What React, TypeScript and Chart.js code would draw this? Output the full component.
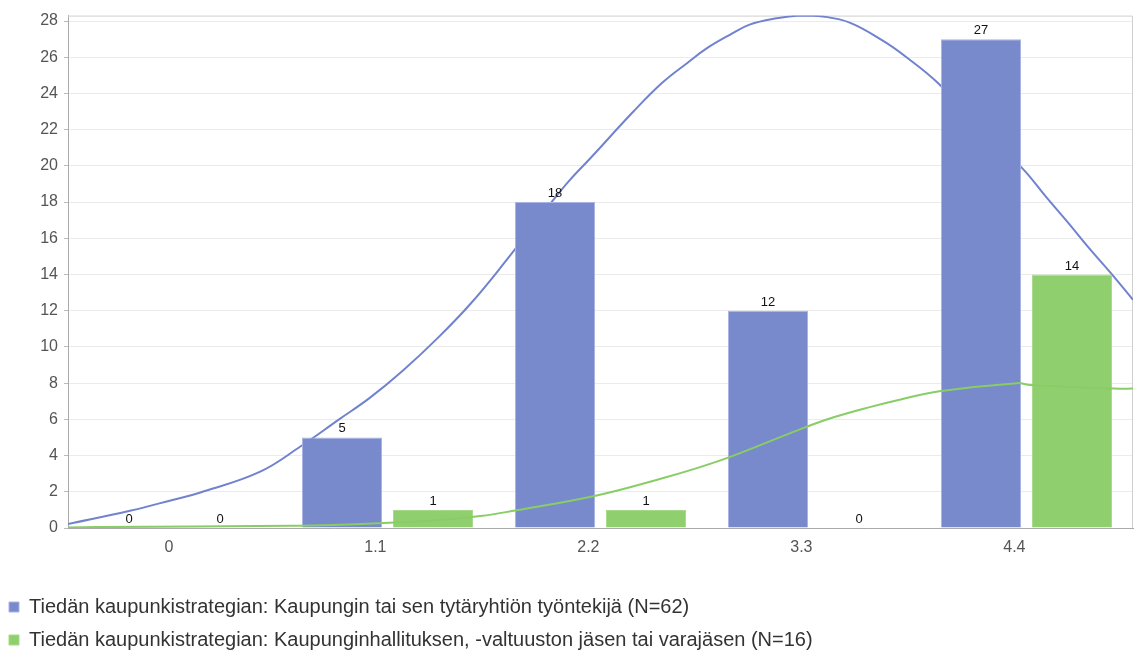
import React, { useEffect, useRef } from 'react';
import { Chart, registerables } from 'chart.js';

Chart.register(...registerables);

const categories = ['0', '1.1', '2.2', '3.3', '4.4'];
const employeeLabel = 'Tiedän kaupunkistrategian: Kaupungin tai sen tytäryhtiön työntekijä (N=62)';
const councilLabel = 'Tiedän kaupunkistrategian: Kaupunginhallituksen, -valtuuston jäsen tai varajäsen (N=16)';
const employeeCounts = [0, 5, 18, 12, 27];
const councilCounts = [0, 1, 1, 0, 14];

const employeeCurveX = [-0.55, -0.23, -0.01, 0.13, 0.44, 0.65, 0.85, 1.01, 1.18, 1.36, 1.53, 1.70, 1.94, 2.04, 2.15, 2.37, 2.52, 2.65, 2.75, 2.87, 2.97, 3.11, 3.23, 3.35, 3.49, 3.66, 3.78, 3.94, 4.38, 4.50, 4.62, 4.72, 4.85, 4.95];
const employeeCurveY = [0.22, 0.95, 1.55, 1.95, 3.1, 4.5, 6.0, 7.2, 8.7, 10.5, 12.4, 14.6, 17.9, 19.2, 20.45, 23.0, 24.6, 25.7, 26.5, 27.25, 27.8, 28.15, 28.3, 28.25, 27.9, 26.9, 26.0, 24.6, 19.85, 18.3, 16.8, 15.5, 13.9, 12.6];

const councilCurveX = [-0.55, -0.40, 0.60, 0.85, 1.08, 1.32, 1.58, 1.75, 2.18, 2.52, 2.71, 2.88, 3.23, 3.40, 3.58, 3.75, 3.95, 4.35, 4.42, 4.85, 4.95];
const councilCurveY = [0.03, 0.05, 0.12, 0.18, 0.27, 0.4, 0.66, 0.95, 1.8, 2.75, 3.35, 3.97, 5.45, 6.1, 6.65, 7.1, 7.55, 8.0, 7.9, 7.7, 7.7];

const FONT = '"Liberation Sans", Arial, sans-serif';
const BAR_DATASETS = [1, 2];

export default function App() {
  const ref = useRef<HTMLCanvasElement>(null);

  useEffect(() => {
    const canvas = ref.current;
    if (!canvas) return;

    const barLabels = {
      id: 'barLabels',
      afterDatasetsDraw(chart: any) {
        const ctx = chart.ctx;
        ctx.save();
        ctx.font = `13px ${FONT}`;
        ctx.fillStyle = '#111';
        ctx.textAlign = 'center';
        ctx.textBaseline = 'alphabetic';
        BAR_DATASETS.forEach((di) => {
          const meta = chart.getDatasetMeta(di);
          meta.data.forEach((el: any, i: number) => {
            const v = chart.data.datasets[di].data[i];
            ctx.fillText(String(v), el.x, el.y - 5);
          });
        });
        ctx.restore();
      },
    };

    const frame = {
      id: 'frame',
      beforeDatasetsDraw(chart: any) {
        const { ctx, chartArea } = chart;
        ctx.save();
        ctx.strokeStyle = '#d0d0d0';
        ctx.lineWidth = 1;
        ctx.beginPath();
        ctx.moveTo(chartArea.left, chartArea.top + 0.5);
        ctx.lineTo(chartArea.right - 0.5, chartArea.top + 0.5);
        ctx.lineTo(chartArea.right - 0.5, chartArea.bottom);
        ctx.stroke();
        ctx.restore();
      },
    };

    const legendShift = {
      id: 'legendShift',
      afterLayout(chart: any) {
        if (chart.legend) chart.legend.left = -4;
      },
    };

    const barCommon = {
      type: 'bar',
      borderWidth: 1,
      xAxisID: 'x',
      yAxisID: 'y',
      order: 2,
      categoryPercentage: 1.709,
      barPercentage: 0.88,
    };

    const chart = new Chart(canvas, {
      data: {
        labels: categories,
        datasets: [
          {
            type: 'line',
            label: 'employee curve',
            data: employeeCurveX.map((x, i) => ({ x, y: employeeCurveY[i] })),
            borderColor: '#7182cf',
            borderWidth: 2,
            pointRadius: 0,
            fill: false,
            tension: 0.4,
            xAxisID: 'xc',
            yAxisID: 'y',
            order: 3,
          },
          {
            ...barCommon,
            label: employeeLabel,
            data: employeeCounts,
            backgroundColor: '#7889cc',
            borderColor: '#a9b4e4',
          },
          {
            ...barCommon,
            label: councilLabel,
            data: councilCounts,
            backgroundColor: '#90cf6e',
            borderColor: '#a6da8a',
          },
          {
            type: 'line',
            label: 'council curve',
            data: councilCurveX.map((x, i) => ({ x, y: councilCurveY[i] })),
            borderColor: '#88cd66',
            borderWidth: 2,
            pointRadius: 0,
            fill: false,
            tension: 0.4,
            xAxisID: 'xc',
            yAxisID: 'y',
            order: 1,
          },
        ] as any,
      },
      options: {
        responsive: false,
        animation: false,
        devicePixelRatio: 1,
        layout: { padding: { top: 14, right: 5, left: 0, bottom: 0 } },
        scales: {
          x: {
            type: 'category',
            offset: true,
            grid: { display: false, drawTicks: false },
            border: { display: true, color: '#aaaaaa' },
            ticks: {
              font: { size: 16, family: FONT },
              color: '#555555',
              padding: 10,
              align: 'end',
              labelOffset: -1,
              maxRotation: 0,
              autoSkip: false,
            },
            afterFit: (s: any) => {
              s.height = 56;
            },
          },
          xc: {
            type: 'linear',
            display: false,
            offset: false,
            min: -0.55,
            max: 4.95,
          },
          y: {
            min: 0,
            max: 28.3,
            stacked: false,
            ticks: {
              stepSize: 2,
              includeBounds: false,
              font: { size: 16, family: FONT },
              color: '#555555',
              padding: 6,
            },
            grid: { color: '#ebebeb', tickColor: '#bbbbbb', tickLength: 4, drawTicks: true },
            border: { display: true, color: '#aaaaaa' },
            afterFit: (s: any) => {
              s.width = 68;
            },
          },
        } as any,
        plugins: {
          legend: {
            position: 'bottom',
            align: 'start',
            labels: {
              boxWidth: 10,
              boxHeight: 10,
              padding: 13,
              color: '#333333',
              font: { size: 20, family: FONT },
              filter: (item: any) => BAR_DATASETS.includes(item.datasetIndex),
              sort: (a: any, b: any) => a.datasetIndex - b.datasetIndex,
            },
          },
          tooltip: { enabled: false },
        },
      } as any,
      plugins: [barLabels, frame, legendShift],
    });

    return () => chart.destroy();
  }, []);

  return (
    <div
      style={{
        position: 'fixed',
        left: 0,
        top: 0,
        width: 1138,
        height: 652,
        overflow: 'hidden',
        background: '#ffffff',
      }}
    >
      <canvas ref={ref} width={1138} height={660} style={{ display: 'block' }} />
    </div>
  );
}
